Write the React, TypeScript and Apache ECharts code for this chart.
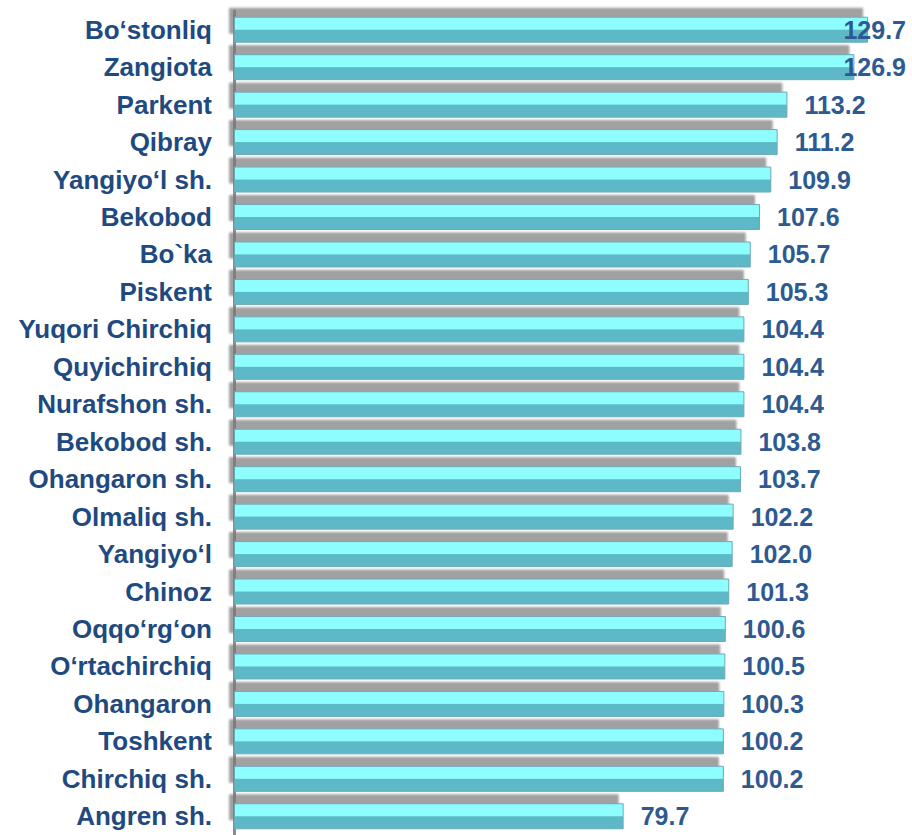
import React, { useEffect, useRef } from "react";
import * as echarts from "echarts";

const categories: string[] = [
  "Bo‘stonliq",
  "Zangiota",
  "Parkent",
  "Qibray",
  "Yangiyo‘l sh.",
  "Bekobod",
  "Bo`ka",
  "Piskent",
  "Yuqori Chirchiq",
  "Quyichirchiq",
  "Nurafshon sh.",
  "Bekobod sh.",
  "Ohangaron sh.",
  "Olmaliq sh.",
  "Yangiyo‘l",
  "Chinoz",
  "Oqqo‘rg‘on",
  "O‘rtachirchiq",
  "Ohangaron",
  "Toshkent",
  "Chirchiq sh.",
  "Angren sh.",
];

const values: number[] = [
  129.7, 126.9, 113.2, 111.2, 109.9, 107.6, 105.7, 105.3, 104.4, 104.4, 104.4,
  103.8, 103.7, 102.2, 102.0, 101.3, 100.6, 100.5, 100.3, 100.2, 100.2, 79.7,
];

const axisMin = 0;
const axisMax = 135;

export default function App() {
  const ref = useRef<HTMLDivElement>(null);

  useEffect(() => {
    if (!ref.current) return;
    const chart = echarts.init(ref.current, null, { renderer: "svg" });
    const labelLimit = 906;
    chart.setOption({
      animation: false,
      backgroundColor: "#ffffff",
      grid: { left: 234, right: 18, top: 11, bottom: -5, containLabel: false },
      xAxis: {
        type: "value",
        min: axisMin,
        max: axisMax,
        show: false,
      },
      yAxis: {
        type: "category",
        inverse: true,
        data: categories,
        axisTick: { show: false },
        axisLine: { show: true, lineStyle: { color: "#8c8c8c", width: 3 } },
        axisLabel: {
          margin: 22,
          color: "#1F4A80",
          fontFamily: "Liberation Sans, Arial, sans-serif",
          fontWeight: "bold",
          fontSize: 26,
        },
        splitLine: { show: false },
      },
      series: [
        {
          type: "bar",
          data: values,
          barWidth: 26,
          itemStyle: {
            color: new echarts.graphic.LinearGradient(0, 0, 0, 1, [
              { offset: 0, color: "#8EFDFE" },
              { offset: 0.48, color: "#8EFDFE" },
              { offset: 0.52, color: "#5DB9C8" },
              { offset: 1, color: "#5DB9C8" },
            ]),
            borderColor: "#6FA9B6",
            borderWidth: 1,
            shadowColor: "rgba(120,120,120,0.7)",
            shadowOffsetY: -9,
            shadowOffsetX: -5,
            shadowBlur: 2,
          },
          label: {
            show: true,
            position: "right",
            distance: 17,
            color: "#2E5A92",
            fontFamily: "Liberation Sans, Arial, sans-serif",
            fontWeight: "bold",
            fontSize: 25,
            formatter: (p: any) => Number(p.value).toFixed(1),
          },
        },
      ],
      labelLayout: (params: any) => {
        const r = params.labelRect;
        if (r && r.x + r.width > labelLimit) {
          return {
            x: labelLimit,
            y: r.y + r.height / 2,
            align: "right",
            verticalAlign: "middle",
          };
        }
        return {};
      },
    });
    return () => chart.dispose();
  }, []);

  return (
    <div
      ref={ref}
      style={{ position: "fixed", left: 0, top: 0, width: 912, height: 835 }}
    />
  );
}
